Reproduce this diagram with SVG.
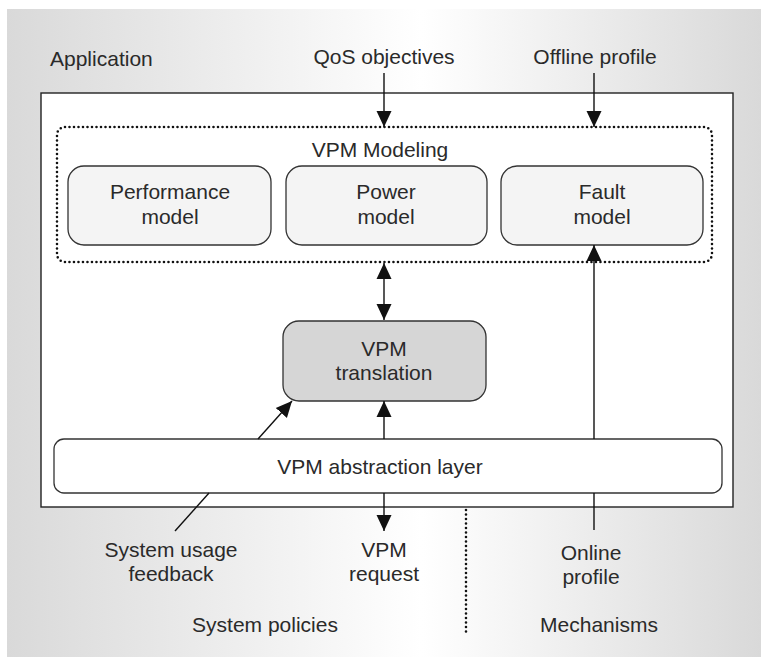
<svg xmlns="http://www.w3.org/2000/svg" width="761" height="658" viewBox="0 0 761 658">
<defs>
<linearGradient id="bg" x1="0" y1="0" x2="1" y2="0">
<stop offset="0" stop-color="#d9d9d9"/>
<stop offset="0.55" stop-color="#ffffff"/>
<stop offset="1" stop-color="#d9d9d9"/>
</linearGradient>
<marker id="ah" viewBox="0 0 16 16" refX="16" refY="8" markerWidth="16" markerHeight="16" markerUnits="userSpaceOnUse" orient="auto-start-reverse">
<path d="M0,0.5 L16,8 L0,15.5 Z" fill="#111"/>
</marker>
<style>
text{font-family:"Liberation Sans",Arial,Helvetica,sans-serif;font-size:21px;fill:#2a2a2a}
.c{text-anchor:middle}
.box{fill:#f4f4f4;stroke:#333;stroke-width:1.3}
.ln{stroke:#111;stroke-width:1.4;fill:none}
.dot{fill:none;stroke:#111;stroke-width:2.6;stroke-linecap:round;stroke-dasharray:0 4.5}
</style>
</defs>
<rect x="0" y="0" width="761" height="658" fill="#ffffff"/>
<rect x="7" y="9" width="754" height="648" fill="url(#bg)"/>
<g id="labels">
<text x="50" y="66">Application</text>
<text class="c" x="384" y="64">QoS objectives</text>
<text class="c" x="595" y="64">Offline profile</text>
<text x="63" y="326">Application</text>
<text x="63" y="347">policies</text>
<text class="c" x="171" y="557">System usage</text>
<text class="c" x="171" y="581">feedback</text>
<text class="c" x="384" y="557">VPM</text>
<text class="c" x="384" y="581">request</text>
<text class="c" x="591" y="560">Online</text>
<text class="c" x="591" y="584">profile</text>
<text class="c" x="265" y="632">System policies</text>
<text class="c" x="599" y="632">Mechanisms</text>
</g>
<g id="application">
<rect x="41" y="93" width="692" height="414" fill="#ffffff" stroke="#222" stroke-width="1.4"/>
</g>
<g id="vpm-modeling">
<rect class="dot" x="57" y="127" width="655" height="135" rx="8"/>
<text class="c" x="380" y="157">VPM Modeling</text>
</g>
<g id="performance-model">
<rect class="box" x="68" y="166" width="203" height="79" rx="16"/>
<text class="c" x="170" y="199">Performance</text>
<text class="c" x="170" y="224">model</text>
</g>
<g id="power-model">
<rect class="box" x="286" y="166" width="201" height="79" rx="16"/>
<text class="c" x="386" y="199">Power</text>
<text class="c" x="386" y="224">model</text>
</g>
<g id="fault-model">
<rect class="box" x="501" y="166" width="202" height="79" rx="16"/>
<text class="c" x="602" y="199">Fault</text>
<text class="c" x="602" y="224">model</text>
</g>
<g id="vpm-translation">
<rect x="283" y="321" width="203" height="80" rx="16" fill="#d6d6d6" stroke="#333" stroke-width="1.3"/>
<text class="c" x="384" y="356">VPM</text>
<text class="c" x="384" y="380">translation</text>
</g>
<g id="vpm-abstraction-layer">
<rect x="54" y="439" width="668" height="54" rx="10" fill="#ffffff" stroke="#333" stroke-width="1.3"/>
<text class="c" x="380" y="474">VPM abstraction layer</text>
</g>
<g id="connectors">
<line class="ln" x1="384" y1="73" x2="384" y2="127" marker-end="url(#ah)"/>
<line class="ln" x1="594" y1="73" x2="594" y2="127" marker-end="url(#ah)"/>
<line class="ln" x1="384" y1="263" x2="384" y2="320" marker-start="url(#ah)" marker-end="url(#ah)"/>
<line class="ln" x1="384" y1="439" x2="384" y2="401" marker-end="url(#ah)"/>
<line class="ln" x1="594" y1="439" x2="594" y2="245" marker-end="url(#ah)"/>
<line class="ln" x1="594" y1="493" x2="594" y2="530"/>
<line class="ln" x1="384" y1="493" x2="384" y2="531" marker-end="url(#ah)"/>
<line class="ln" x1="175" y1="531" x2="209" y2="493"/>
<line class="ln" x1="258" y1="439" x2="292" y2="401" marker-end="url(#ah)"/>
<line class="dot" x1="466" y1="510" x2="466" y2="635"/>
</g>
</svg>
